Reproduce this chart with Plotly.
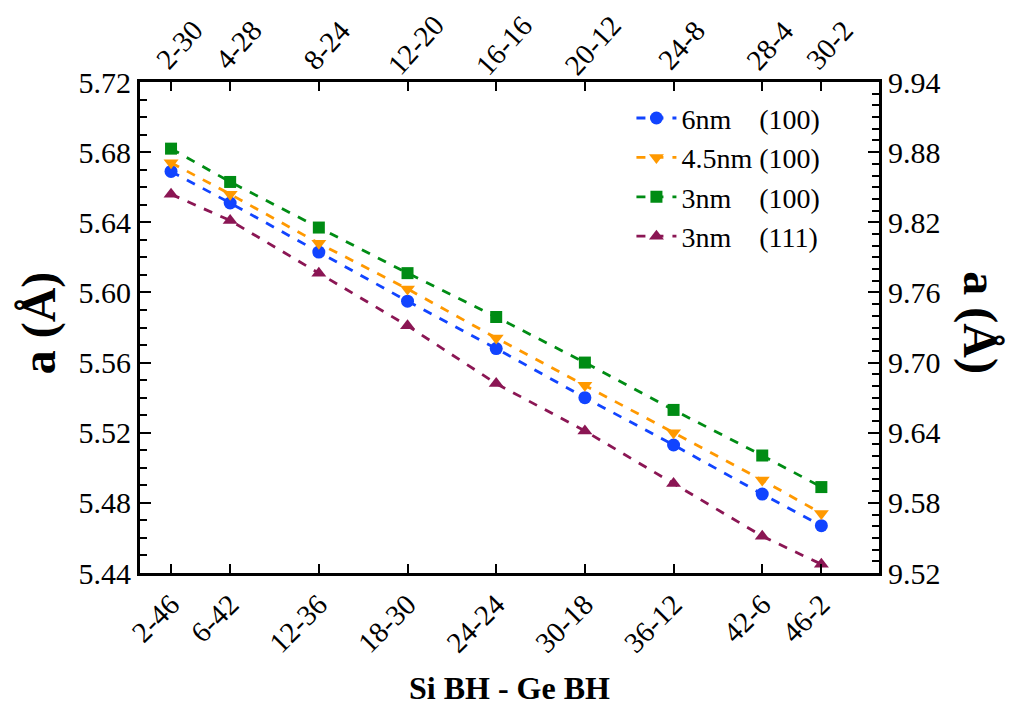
import plotly.graph_objects as go

si_bh = [2, 6, 12, 18, 24, 30, 36, 42, 46]
bottom_labels = ["2-46", "6-42", "12-36", "18-30", "24-24", "30-18", "36-12", "42-6", "46-2"]
top_labels = ["2-30", "4-28", "8-24", "12-20", "16-16", "20-12", "24-8", "28-4", "30-2"]

a_6nm_100 = [5.669, 5.651, 5.623, 5.595, 5.568, 5.540, 5.513, 5.485, 5.467]
a_45nm_100 = [5.674, 5.656, 5.628, 5.602, 5.574, 5.547, 5.520, 5.493, 5.474]
a_3nm_100 = [5.682, 5.663, 5.637, 5.611, 5.586, 5.560, 5.533, 5.507, 5.489]
a_3nm_111 = [5.656, 5.641, 5.611, 5.581, 5.548, 5.521, 5.491, 5.461, 5.445]

series = [
    ("6nm&nbsp;&nbsp;&nbsp;&nbsp;(100)", a_6nm_100, "#1144ff", "circle", 13),
    ("4.5nm (100)", a_45nm_100, "#ff9900", "triangle-down", 13),
    ("3nm&nbsp;&nbsp;&nbsp;&nbsp;(100)", a_3nm_100, "#008c14", "square", 12),
    ("3nm&nbsp;&nbsp;&nbsp;&nbsp;(111)", a_3nm_111, "#8b1654", "triangle-up", 13),
]

font = "Liberation Serif"
fig = go.Figure()
for name, vals, col, sym, sz in series:
    fig.add_trace(go.Scatter(
        x=si_bh, y=vals, name=name, mode="lines+markers",
        line=dict(color=col, width=2.8, dash="dash"),
        marker=dict(color=col, symbol=sym, size=sz),
    ))

# invisible trace for secondary axes
fig.add_trace(go.Scatter(x=[si_bh[0]], y=[9.6], xaxis="x2", yaxis="y2",
                         mode="markers", marker=dict(opacity=0), showlegend=False,
                         hoverinfo="skip"))

xr = [-0.1, 49.9]
common_x = dict(range=xr, tickvals=si_bh, tickangle=-45, ticks="inside", ticklen=9,
                tickwidth=2, tickcolor="black", showline=True, linecolor="black",
                linewidth=3, showgrid=False, zeroline=False, automargin=False,
                tickfont=dict(family=font, size=29, color="black"))

yminor = dict(dtick=0.01, ticks="inside", ticklen=7, tickwidth=2, tickcolor="black", showgrid=False)

annotations = [
    dict(text="<b>a (Å)</b>", xref="paper", yref="paper", x=-0.137, y=0.51,
         xanchor="center", yanchor="middle",
         textangle=-90, showarrow=False, font=dict(family=font, size=48, color="black")),
    dict(text="<b>a (Å)</b>", xref="paper", yref="paper", x=1.137, y=0.51,
         xanchor="center", yanchor="middle",
         textangle=90, showarrow=False, font=dict(family=font, size=48, color="black")),
    dict(text="<b>Si BH - Ge BH</b>", xref="paper", yref="paper", x=0.5, y=-0.234,
         xanchor="center", yanchor="middle", showarrow=False,
         font=dict(family=font, size=32, color="black")),
]
for xv, lab in zip(si_bh, top_labels):
    annotations.append(dict(text=lab, x=xv, xref="x2", y=1.075, yref="paper",
                            xanchor="center", yanchor="middle", xshift=8,
                            textangle=-48, showarrow=False,
                            font=dict(family=font, size=29, color="black")))

fig.update_layout(
    width=1013, height=708,
    margin=dict(l=140, r=134, t=82, b=135),
    plot_bgcolor="white", paper_bgcolor="white",
    font=dict(family=font, color="black"),
    xaxis=dict(ticktext=bottom_labels, **common_x),
    xaxis2=dict(ticktext=top_labels, overlaying="x", side="top", anchor="y",
                showticklabels=False, **common_x),
    yaxis=dict(range=[5.44, 5.72], dtick=0.04, tick0=5.44, tickformat=".2f",
               ticks="inside", ticklen=11, tickwidth=2, tickcolor="black",
               minor=yminor, automargin=False,
               showline=True, linecolor="black", linewidth=3, showgrid=False, zeroline=False,
               tickfont=dict(family=font, size=30, color="black")),
    yaxis2=dict(range=[9.52, 9.94], dtick=0.06, tick0=9.52, tickformat=".2f",
                overlaying="y", side="right", anchor="x",
                ticks="inside", ticklen=11, tickwidth=2, tickcolor="black",
                minor=yminor, automargin=False,
                showline=True, linecolor="black", linewidth=3, showgrid=False, zeroline=False,
                tickfont=dict(family=font, size=30, color="black")),
    legend=dict(x=0.665, y=0.977, xanchor="left", yanchor="top", bgcolor="rgba(0,0,0,0)",
                font=dict(family=font, size=28, color="black"), tracegroupgap=0,
                itemwidth=40),
    showlegend=True,
    annotations=annotations,
)

fig.write_html("out.html")
